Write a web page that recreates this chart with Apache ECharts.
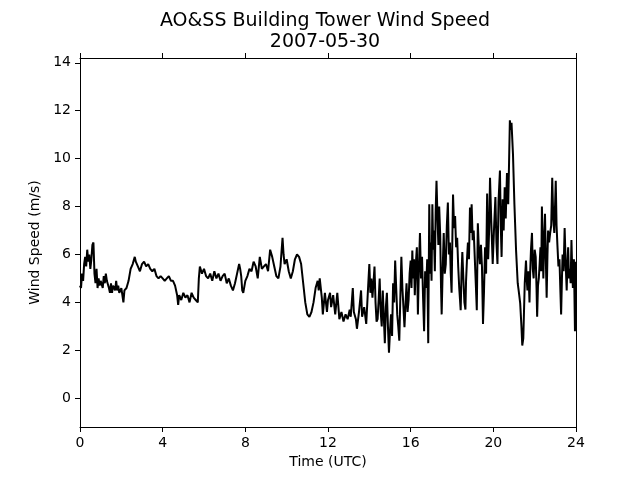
<!DOCTYPE html>
<html>
<head>
<meta charset="utf-8">
<script src="https://cdn.jsdelivr.net/npm/echarts@6/dist/echarts.min.js"></script>
<style>
html,body{margin:0;padding:0;background:#fff;}
#chart{width:640px;height:480px;}
</style>
</head>
<body>
<div id="chart"></div>
<script>
var titleText = "AO&SS Building Tower Wind Speed";
var subtitleText = "2007-05-30";
var xTicks = [0, 4, 8, 12, 16, 20, 24];
var yTicks = [0, 2, 4, 6, 8, 10, 12, 14];
var hours = [
0.00,0.05,0.10,0.15,0.20,0.25,0.30,0.35,0.40,0.45,0.50,0.55,0.60,0.65,0.70,0.75,0.80,0.85,0.90,0.95,
1.00,1.10,1.15,1.20,1.25,1.30,1.40,1.45,1.50,1.55,1.60,1.70,1.75,1.80,1.85,1.90,
2.00,2.05,2.10,2.15,2.25,2.35,2.45,2.55,2.65,2.70,2.80,2.90,
3.00,3.10,3.20,3.30,3.40,3.50,3.60,3.70,3.80,3.90,
4.00,4.10,4.20,4.30,4.40,4.50,4.60,4.70,4.75,4.80,4.90,
5.00,5.10,5.20,5.30,5.40,5.50,5.60,5.70,5.75,5.80,5.90,
6.00,6.10,6.20,6.30,6.40,6.50,6.60,6.70,6.80,6.90,
7.00,7.10,7.20,7.30,7.40,7.50,7.60,7.70,7.75,7.80,7.85,7.90,
8.00,8.10,8.20,8.30,8.40,8.50,8.60,8.70,8.80,8.90,
9.00,9.10,9.20,9.30,9.40,9.50,9.60,9.70,9.80,9.85,9.90,
10.00,10.10,10.20,10.30,10.40,10.50,10.60,10.70,10.80,10.90,
11.00,11.10,11.20,11.30,11.40,11.50,11.55,11.60,11.70,11.75,11.85,11.95,
12.00,12.10,12.15,12.25,12.35,12.45,12.55,12.65,12.75,12.85,12.95,
13.05,13.10,13.20,13.25,13.35,13.40,13.50,13.60,13.65,13.75,13.85,13.95,
14.00,14.05,14.10,14.15,14.20,14.25,14.30,14.35,14.40,14.45,14.50,14.55,14.60,14.65,14.70,14.75,14.80,14.85,14.90,14.95,
15.00,15.05,15.10,15.15,15.20,15.25,15.30,15.35,15.40,15.45,15.50,15.55,15.60,15.65,15.70,15.75,15.80,15.85,15.90,15.95,
16.00,16.04,16.08,16.12,16.16,16.20,16.25,16.30,16.35,16.40,16.45,16.50,16.55,16.60,16.65,16.70,16.75,16.80,16.85,16.90,16.94,16.97,
17.01,17.05,17.09,17.12,17.17,17.21,17.25,17.30,17.34,17.38,17.43,17.47,17.50,17.55,17.60,17.65,17.70,17.75,17.80,17.85,17.90,17.94,17.98,
18.02,18.05,18.10,18.15,18.20,18.25,18.30,18.35,18.42,18.46,18.50,18.55,18.60,18.65,18.68,18.72,18.77,18.82,18.87,18.91,18.95,
19.00,19.05,19.10,19.15,19.20,19.25,19.30,19.35,19.40,19.45,19.50,19.55,19.60,19.65,19.70,19.75,19.80,19.84,19.90,19.97,
20.03,20.10,20.15,20.20,20.25,20.32,20.36,20.40,20.45,20.50,20.55,20.60,20.66,20.72,20.76,20.80,20.84,20.88,20.95,
21.02,21.10,21.18,21.24,21.30,21.36,21.40,21.45,21.52,21.58,21.62,21.65,21.70,21.75,21.78,21.82,21.87,21.91,21.95,
22.00,22.05,22.09,22.12,22.16,22.20,22.24,22.28,22.32,22.35,22.39,22.42,22.46,22.50,22.54,22.58,22.62,22.65,22.70,22.75,22.80,22.85,22.90,22.95,
23.02,23.06,23.10,23.15,23.20,23.24,23.28,23.32,23.35,23.40,23.45,23.50,23.55,23.58,23.62,23.66,23.70,23.74,23.78,23.82,23.85,23.90,23.95,24.00
];
var speeds = [
4.7,4.6,5.2,4.9,5.6,5.9,5.5,6.2,5.7,6.0,5.4,5.8,6.4,6.5,5.2,4.8,5.4,4.6,5.0,4.7,
4.9,4.6,5.1,4.8,5.2,4.9,4.6,4.4,4.8,4.4,4.7,4.5,4.9,4.5,4.7,4.4,
4.6,4.3,4.0,4.5,4.6,4.9,5.4,5.6,5.9,5.7,5.5,5.3,
5.6,5.7,5.5,5.6,5.4,5.3,5.4,5.1,5.0,5.1,
5.0,4.9,5.0,5.1,4.9,4.9,4.7,4.3,3.9,4.3,4.1,
4.4,4.2,4.3,4.0,4.4,4.2,4.1,4.0,5.0,5.5,5.2,
5.4,5.1,5.0,5.2,4.9,5.3,5.0,5.2,4.9,5.1,
5.2,4.8,5.0,4.7,4.5,4.8,5.2,5.6,5.4,5.1,4.5,4.4,
4.9,5.1,5.4,5.3,5.7,5.5,5.0,5.9,5.4,5.5,
5.6,5.3,6.2,5.9,5.5,5.1,5.0,5.5,6.7,6.0,5.6,
5.8,5.3,5.0,5.3,5.8,6.0,5.9,5.6,4.8,4.0,
3.5,3.4,3.6,4.0,4.6,4.9,4.5,5.0,4.2,3.5,4.4,3.6,
4.1,4.4,3.8,4.3,3.5,4.4,3.3,3.6,3.2,3.5,3.3,
3.7,3.4,4.6,3.6,3.3,2.9,3.6,4.5,3.4,3.8,3.1,4.8,
5.6,4.4,5.0,4.2,4.8,5.5,4.0,3.2,3.3,4.1,5.0,3.6,3.0,4.5,3.4,2.3,3.8,4.4,3.0,1.9,
2.8,3.5,2.6,4.8,4.0,5.75,4.6,3.5,3.0,2.4,4.2,5.9,4.6,3.8,2.96,3.9,4.8,3.6,4.1,5.2,
5.75,4.6,6.17,5.0,5.8,4.3,5.6,6.3,3.5,5.5,6.9,5.0,5.9,4.2,2.8,5.3,4.6,5.8,2.3,8.1,5.2,6.5,
4.9,8.1,6.2,7.0,5.3,7.8,9.08,7.5,6.4,8.0,6.8,4.6,3.5,5.4,6.9,5.2,5.6,7.2,8.17,6.0,6.5,5.2,4.4,
6.8,8.5,7.1,7.6,6.3,6.7,5.5,4.6,3.67,5.2,6.1,5.0,4.0,3.7,4.9,5.7,6.5,5.8,7.96,6.9,8.1,
6.6,7.0,5.9,4.8,3.67,7.3,6.2,5.6,6.4,5.5,3.1,4.5,6.3,5.2,8.54,5.8,7.1,9.2,7.4,5.6,
7.0,8.4,6.5,5.6,8.2,9.5,7.2,5.9,8.3,7.0,8.8,7.5,9.4,8.1,9.8,11.6,11.2,11.5,10.2,
8.1,6.17,4.8,4.4,3.96,3.0,2.2,2.5,4.8,5.75,4.9,4.5,5.3,4.0,5.2,6.17,6.9,5.4,5.0,
6.2,5.9,4.6,3.4,4.7,5.0,5.6,6.3,5.3,8.0,6.4,5.0,6.6,7.7,5.8,4.2,6.0,7.0,6.5,6.9,7.2,9.2,7.5,6.9,
9.08,7.2,6.4,5.5,5.8,4.6,3.5,5.0,6.0,5.3,7.1,5.6,4.5,5.5,6.3,5.0,5.4,4.8,6.6,5.2,4.6,5.8,2.8,5.7
];
var seriesData = hours.map(function (h, i) { return [h, speeds[i]]; });

var chart = echarts.init(document.getElementById('chart'), null, {renderer: 'canvas'});
var font = 'DejaVu Sans';
var axisLineStyle = {color: '#000', width: 1};
chart.setOption({
  animation: false,
  backgroundColor: '#fff',
  title: {
    text: titleText + '\n' + subtitleText,
    left: 320,
    top: 6,
    textAlign: 'center',
    textStyle: {fontFamily: font, fontSize: 19, fontWeight: 'normal', color: '#000', lineHeight: 21}
  },
  grid: {left: 80, right: 64, top: 58, bottom: 53, containLabel: false},
  xAxis: [{
    type: 'value', min: 0, max: 24, interval: 4, position: 'bottom',
    name: 'Time (UTC)', nameLocation: 'middle', nameGap: 27,
    nameTextStyle: {fontFamily: font, fontSize: 14, color: '#000'},
    axisLine: {show: true, onZero: false, lineStyle: axisLineStyle},
    axisTick: {show: true, length: 5, lineStyle: axisLineStyle},
    axisLabel: {fontFamily: font, fontSize: 14, color: '#000', margin: 9},
    splitLine: {show: false}
  }, {
    type: 'value', min: 0, max: 24, interval: 4, position: 'top',
    axisLine: {show: true, onZero: false, lineStyle: axisLineStyle},
    axisTick: {show: true, length: 5, lineStyle: axisLineStyle},
    axisLabel: {show: false},
    splitLine: {show: false}
  }],
  yAxis: [{
    type: 'value', min: -1.2, max: 14.2, position: 'left',
    name: 'Wind Speed (m/s)', nameLocation: 'middle', nameGap: 32,
    nameTextStyle: {fontFamily: font, fontSize: 14, color: '#000'},
    axisLine: {show: true, onZero: false, lineStyle: axisLineStyle},
    axisTick: {show: true, length: 5, lineStyle: axisLineStyle, customValues: yTicks},
    axisLabel: {fontFamily: font, fontSize: 14, color: '#000', margin: 9, customValues: yTicks},
    splitLine: {show: false}
  }, {
    type: 'value', min: -1.2, max: 14.2, position: 'right',
    axisLine: {show: true, onZero: false, lineStyle: axisLineStyle},
    axisTick: {show: false}, axisLabel: {show: false}, splitLine: {show: false}
  }],
  series: [{
    type: 'line',
    data: seriesData,
    xAxisIndex: 0,
    yAxisIndex: 0,
    showSymbol: false,
    symbol: 'none',
    lineStyle: {color: '#000', width: 2},
    itemStyle: {color: '#000'}
  }]
});
</script>
</body>
</html>
